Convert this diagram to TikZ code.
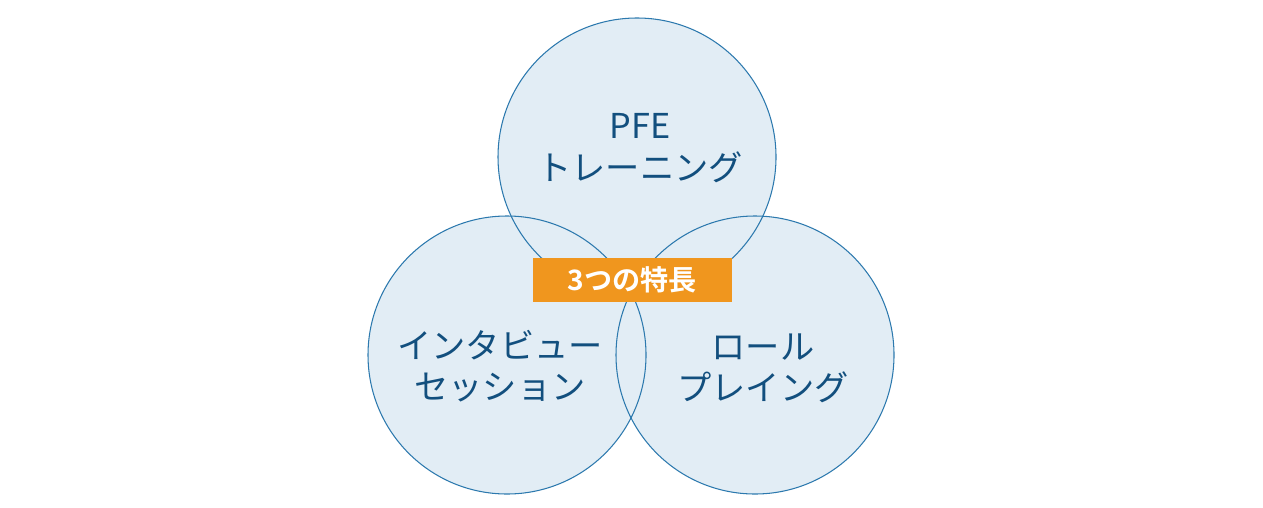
\documentclass[tikz,border=0pt]{standalone}
\usepackage{fontspec}
\setmainfont{Noto Sans CJK JP}[BoldFont={Noto Sans CJK JP Bold}]
\usetikzlibrary{positioning}
\definecolor{VennFill}{HTML}{E2EDF5}
\definecolor{VennLine}{HTML}{2C79AE}
\definecolor{VennText}{HTML}{124F7E}
\definecolor{BadgeOrange}{HTML}{F0961E}

\begin{document}
\begin{tikzpicture}[x=0.02cm, y=-0.02cm, font=\fontsize{19.5}{23.5}\selectfont]
    \useasboundingbox (0,0) rectangle (1263,507);
    % circles: fills first, then outlines on top
    \foreach \cx/\cy in {637/157, 507/355, 755/355}
        \fill[VennFill] (\cx,\cy) circle[radius=139];
    \foreach \cx/\cy in {637/157, 507/355, 755/355}
        \draw[VennLine, line width=0.6pt] (\cx,\cy) circle[radius=139];

    \node[VennText, align=center] (pfe) at (640,148) {PFE\\トレーニング};
    \node[VennText, align=center] (interview) at (500,366) {インタビュー\\セッション};
    \node[VennText, align=center] (roleplay) at (763,368) {ロール\\プレイング};

    \node[fill=BadgeOrange, text=white, font=\fontsize{16}{19}\selectfont\bfseries,
          minimum width=199*0.02cm, minimum height=44*0.02cm, inner sep=0pt] (badge) at (632.5,280) {3つの特長};
\end{tikzpicture}
\end{document}
